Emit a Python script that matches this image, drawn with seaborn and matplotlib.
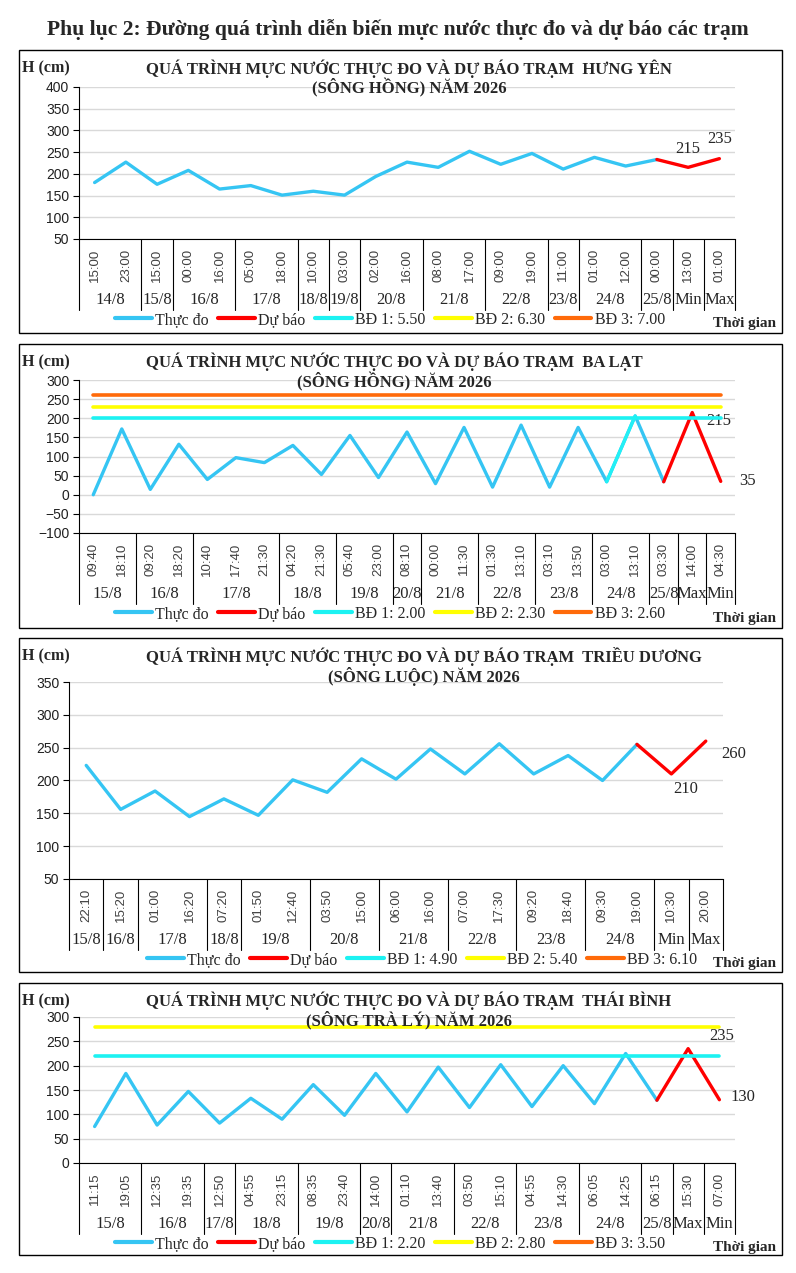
import numpy as np
import pandas as pd
import matplotlib
matplotlib.use("Agg")
import matplotlib.pyplot as plt
import seaborn as sns
from matplotlib.lines import Line2D
from matplotlib.patches import Rectangle

# ---------------- data ----------------
# Hưng Yên (sông Hồng)
hy_times = ["15:00", "23:00", "15:00", "00:00", "16:00", "05:00", "18:00", "10:00", "03:00", "02:00", "16:00",
            "08:00", "17:00", "09:00", "19:00", "11:00", "01:00", "12:00", "00:00", "13:00", "01:00"]
hy_dates = ["14/8", "15/8", "16/8", "17/8", "18/8", "19/8", "20/8", "21/8", "22/8", "23/8", "24/8", "25/8", "Min", "Max"]
hy_group_sizes = [2, 1, 2, 2, 1, 1, 2, 2, 2, 1, 2, 1, 1, 1]
hy_obs = [180, 227, 176, 208, 165, 173, 151, 160, 151, 194, 227, 215, 252, 222, 247, 211, 238, 218, 233]
hy_fc = [215, 235]
hy_bd = [5.50, 6.30, 7.00]

# Ba Lạt (sông Hồng)
bl_times = ["09:40", "18:10", "09:20", "18:20", "10:40", "17:40", "21:30", "04:20", "21:30", "05:40", "23:00",
            "08:10", "00:00", "11:30", "01:30", "13:10", "03:10", "13:50", "03:00", "13:10", "03:30", "14:00", "04:30"]
bl_dates = ["15/8", "16/8", "17/8", "18/8", "19/8", "20/8", "21/8", "22/8", "23/8", "24/8", "25/8", "Max", "Min"]
bl_group_sizes = [2, 2, 3, 2, 2, 1, 2, 2, 2, 2, 1, 1, 1]
bl_obs = [0, 172, 14, 132, 40, 97, 84, 129, 53, 155, 45, 164, 29, 176, 20, 182, 20, 176, 34, 206, 34]
bl_fc = [215, 35]
bl_bd = [2.00, 2.30, 2.60]

# Triều Dương (sông Luộc)
td_times = ["22:10", "15:20", "01:00", "16:20", "07:20", "01:50", "12:40", "03:50", "15:00", "06:00",
            "16:00", "07:00", "17:30", "09:20", "18:40", "09:30", "19:00", "10:30", "20:00"]
td_dates = ["15/8", "16/8", "17/8", "18/8", "19/8", "20/8", "21/8", "22/8", "23/8", "24/8", "Min", "Max"]
td_group_sizes = [1, 1, 2, 1, 2, 2, 2, 2, 2, 2, 1, 1]
td_obs = [223, 156, 184, 145, 172, 147, 201, 182, 233, 202, 248, 210, 256, 210, 238, 200, 255]
td_fc = [210, 260]
td_bd = [4.90, 5.40, 6.10]

# Thái Bình (sông Trà Lý)
tb_times = ["11:15", "19:05", "12:35", "19:35", "12:50", "04:55", "23:15", "08:35", "23:40", "14:00", "01:10",
            "13:40", "03:50", "15:10", "04:55", "14:30", "06:05", "14:25", "06:15", "15:30", "07:00"]
tb_dates = ["15/8", "16/8", "17/8", "18/8", "19/8", "20/8", "21/8", "22/8", "23/8", "24/8", "25/8", "Max", "Min"]
tb_group_sizes = [2, 2, 1, 2, 2, 1, 2, 2, 2, 2, 1, 1, 1]
tb_obs = [75, 184, 78, 147, 82, 133, 90, 161, 98, 184, 105, 197, 114, 202, 116, 200, 122, 225, 129]
tb_fc = [235, 130]
tb_bd = [2.20, 2.80, 3.50]

stations = [
    dict(name="HƯNG YÊN", river="SÔNG HỒNG", times=hy_times, dates=hy_dates, groups=hy_group_sizes,
         obs=hy_obs, fc=hy_fc, bd=hy_bd, ylim=(50, 400)),
    dict(name="BA LẠT", river="SÔNG HỒNG", times=bl_times, dates=bl_dates, groups=bl_group_sizes,
         obs=bl_obs, fc=bl_fc, bd=bl_bd, ylim=(-100, 300)),
    dict(name="TRIỀU DƯƠNG", river="SÔNG LUỘC", times=td_times, dates=td_dates, groups=td_group_sizes,
         obs=td_obs, fc=td_fc, bd=td_bd, ylim=(50, 350)),
    dict(name="THÁI BÌNH", river="SÔNG TRÀ LÝ", times=tb_times, dates=tb_dates, groups=tb_group_sizes,
         obs=tb_obs, fc=tb_fc, bd=tb_bd, ylim=(0, 300)),
]

# ---------------- layout (pixels) ----------------
W, H = 796, 1273
layouts = [
    dict(box=(19, 50, 782, 333), plot=(79, 87, 735, 239), leg_x=390, fc_off=[(0, 13), (0, 14)], seg=None),
    dict(box=(19, 344, 782, 628), plot=(79, 380, 735, 533), leg_x=390, fc_off=[(19, -6), (19, 0)], seg=(18, 20)),
    dict(box=(19, 638, 782, 972), plot=(69, 682, 723, 879), leg_x=422, fc_off=[(10, -11), (20, -9)], seg=None),
    dict(box=(19, 983, 782, 1255), plot=(79, 1017, 735, 1163), leg_x=390, fc_off=[(24, 9), (17, 2)], seg=None),
]

C_OBS = "#35C5F3"
C_FC = "#FF0000"
C_BD = ["#1CF2F2", "#FFFF00", "#FF6A0A"]

sns.set_theme(style="white")
plt.rcParams["font.family"] = ["Liberation Serif", "DejaVu Serif"]
SANS = ["Liberation Sans", "DejaVu Sans"]

fig = plt.figure(figsize=(W / 100, H / 100), dpi=100)
fig.text(398 / W, 1 - 30 / H, "Phụ lục 2: Đường quá trình diễn biến mực nước thực đo và dự báo các trạm",
         ha="center", va="center", fontsize=15.6, fontweight="bold")


def px(y):
    return 1 - y / H


def draw_panel(st, lay):
    bl, bt, br, bb = lay["box"]
    fig.add_artist(Rectangle((bl / W, px(bb)), (br - bl) / W, (bb - bt) / H, transform=fig.transFigure,
                             fill=False, edgecolor="black", lw=1.0))
    l, t, r, b = lay["plot"]
    ax = fig.add_axes([l / W, px(b), (r - l) / W, (b - t) / H])
    ph = b - t

    n = len(st["times"])
    x = np.arange(n)
    nobs = len(st["obs"])
    obs_df = pd.DataFrame({"x": x[:nobs], "h": st["obs"]})
    fc_df = pd.DataFrame({"x": x[nobs - 1:], "h": [st["obs"][-1]] + st["fc"]})

    sns.lineplot(data=obs_df, x="x", y="h", ax=ax, color=C_OBS, lw=2.4, zorder=3)
    if lay["seg"] is not None:
        a, z = lay["seg"]
        sns.lineplot(data=obs_df.iloc[a:z], x="x", y="h", ax=ax, color="#22F0F5", lw=2.4, zorder=3)
    sns.lineplot(data=fc_df, x="x", y="h", ax=ax, color=C_FC, lw=2.4, zorder=3)
    for v, c in zip(st["bd"], C_BD):
        sns.lineplot(x=[x[0], x[-1]], y=[v * 100, v * 100], ax=ax, color=c, lw=2.6, zorder=4)

    # data labels for forecast
    for i, (val, off) in enumerate(zip(st["fc"], lay["fc_off"])):
        ax.annotate(str(val), xy=(x[nobs + i], val), xytext=off, textcoords="offset points",
                    ha="center", va="center", fontsize=12, annotation_clip=False)

    lo, hi = st["ylim"]
    ax.set_ylim(lo, hi)
    ax.set_yticks(np.arange(lo, hi + 1, 50))
    ax.set_xlim(-0.5, n - 0.5)
    ax.set_xlabel("")
    ax.set_ylabel("")
    ax.grid(axis="y", color="#D9D9D9", lw=1.0)
    ax.grid(axis="x", visible=False)
    for s in ["top", "right"]:
        ax.spines[s].set_visible(False)
    for s in ["left", "bottom"]:
        ax.spines[s].set_color("black")
        ax.spines[s].set_linewidth(0.8)
    ax.tick_params(axis="y", length=4, width=0.8, color="black", pad=3, labelsize=10, left=True)
    for lab in ax.get_yticklabels():
        lab.set_family(SANS)
        lab.set_color("#202020")
    ax.set_xticks(x)
    ax.set_xticklabels(st["times"], rotation=90, fontsize=9.5, family=SANS, color="#404040")
    ax.tick_params(axis="x", length=0, pad=7)

    # category groups (date row)
    edges = np.concatenate([[0], np.cumsum(st["groups"])]) - 0.5
    trans = ax.get_xaxis_transform()
    for e in edges:
        ax.plot([e, e], [0, -71 / ph], transform=trans, color="black", lw=0.8, clip_on=False)
    for d, a, z in zip(st["dates"], edges[:-1], edges[1:]):
        ax.text((a + z) / 2, -61 / ph, d, transform=trans, ha="center", va="center", fontsize=12)

    # titles and captions
    fig.text(22 / W, px(bt + 18), "H (cm)", ha="left", va="center", fontsize=11.5, fontweight="bold")
    fig.text(146 / W, px(bt + 9), f"QUÁ TRÌNH MỰC NƯỚC THỰC ĐO VÀ DỰ BÁO TRẠM  {st['name']}\n"
                                  f"({st['river']}) NĂM 2026",
             ha="left", va="top", multialignment="center", fontsize=12, fontweight="bold",
             linespacing=1.05)
    fig.text(776 / W, px(b + 85), "Thời gian", ha="right", va="center", fontsize=11, fontweight="bold")

    handles = [Line2D([], [], color=C_OBS, lw=3), Line2D([], [], color=C_FC, lw=3)] + \
              [Line2D([], [], color=c, lw=3) for c in C_BD]
    labels = ["Thực đo", "Dự báo"] + [f"BĐ {i + 1}: {v:.2f}" for i, v in enumerate(st["bd"])]
    fig.legend(handles, labels, loc="center", bbox_to_anchor=(lay["leg_x"] / W, px(b + 81)), ncol=5,
               frameon=False, fontsize=11.5, handlelength=2.3, handletextpad=0.2, columnspacing=0.6,
               borderaxespad=0, borderpad=0)
    return ax


for st, lay in zip(stations, layouts):
    draw_panel(st, lay)

fig.savefig("out.png", dpi=100)
